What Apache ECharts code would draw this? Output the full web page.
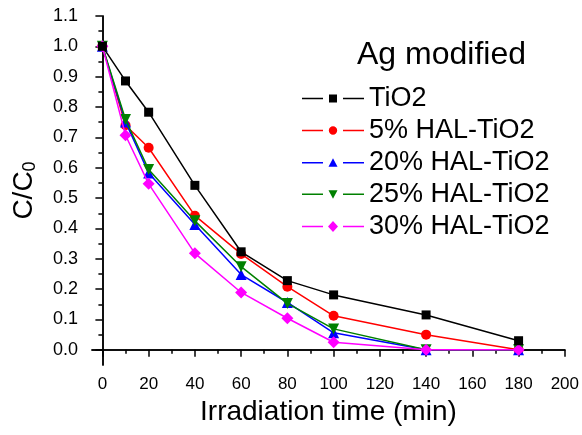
<!DOCTYPE html>
<html>
<head>
<meta charset="utf-8">
<script src="https://cdn.jsdelivr.net/npm/echarts@6/dist/echarts.min.js"></script>
</head>
<body style="margin:0">
<div id="main" style="width: 582px;height:435px;"></div>
<script>
    // data
    var times = [0, 10, 20, 40, 60, 80, 100, 140, 180];
    var tio2 = [1.0, 0.886, 0.783, 0.542, 0.323, 0.228, 0.181, 0.115, 0.03];
    var hal5 = [1.0, 0.74, 0.666, 0.442, 0.316, 0.208, 0.112, 0.05, 0.0];
    var hal20 = [1.0, 0.751, 0.583, 0.413, 0.248, 0.156, 0.056, 0.0, 0.0];
    var hal25 = [1.0, 0.759, 0.594, 0.425, 0.274, 0.153, 0.069, 0.0, 0.0];
    var hal30 = [1.0, 0.707, 0.547, 0.318, 0.189, 0.104, 0.025, 0.0, 0.0];
    var names = ['TiO2', '5% HAL-TiO2', '20% HAL-TiO2', '25% HAL-TiO2', '30% HAL-TiO2'];

    var xMajor = [0, 20, 40, 60, 80, 100, 120, 140, 160, 180, 200];
    var xMinor = [10, 30, 50, 70, 90, 110, 130, 150, 170, 190];
    var yMajor = [0, 0.1, 0.2, 0.3, 0.4, 0.5, 0.6, 0.7, 0.8, 0.9, 1.0, 1.1];
    var yMinor = [0.05, 0.15, 0.25, 0.35, 0.45, 0.55, 0.65, 0.75, 0.85, 0.95, 1.05];

    function pairs(ys) {
        return times.map(function (t, i) { return [t, ys[i]]; });
    }

    // legend icons: line - marker - line
    var lineL = 'M0,5.3 L21,5.3 L21,6.7 L0,6.7 Z ';
    var lineR = 'M41,5.3 L62,5.3 L62,6.7 L41,6.7 Z ';
    var icons = {
        square: 'path://' + lineL + 'M27,2 L35,2 L35,10 L27,10 Z ' + lineR,
        circle: 'path://' + lineL + 'M31,1.8 A4.2,4.2 0 1,1 30.99,1.8 Z ' + lineR,
        up: 'path://' + lineL + 'M31,1.5 L35.5,10 L26.5,10 Z ' + lineR,
        down: 'path://' + lineL + 'M26.5,2 L35.5,2 L31,10.5 Z ' + lineR,
        diamond: 'path://' + lineL + 'M31,0.5 L36,6 L31,11.5 L26,6 Z ' + lineR
    };

    var myChart = echarts.init(document.getElementById('main'));

    var font = 'Liberation Sans, Arial, sans-serif';

    function mk(name, data, color, symbol, size, rotate, z) {
        return {
            name: name,
            type: 'line',
            xAxisIndex: 0,
            yAxisIndex: 0,
            data: pairs(data),
            symbol: symbol,
            symbolSize: size,
            symbolRotate: rotate || 0,
            showAllSymbol: true,
            z: z,
            lineStyle: {color: color, width: 1.5},
            itemStyle: {color: color, borderWidth: 0},
            emphasis: {disabled: true},
            animation: false
        };
    }

    var option = {
        animation: false,
        textStyle: {fontFamily: font},
        title: {
            text: 'Ag modified',
            left: 357,
            top: 39,
            padding: 0,
            textStyle: {fontSize: 32, fontWeight: 'normal', color: '#000', fontFamily: font}
        },
        legend: {
            orient: 'vertical',
            left: 302,
            top: 85,
            padding: 0,
            itemWidth: 62,
            itemHeight: 12,
            itemGap: 5,
            textStyle: {fontSize: 27, color: '#000', fontFamily: font},
            data: [
                {name: names[0], icon: icons.square, itemStyle: {color: '#000000', borderWidth: 0}},
                {name: names[1], icon: icons.circle, itemStyle: {color: '#ff0000', borderWidth: 0}},
                {name: names[2], icon: icons.up, itemStyle: {color: '#0000ff', borderWidth: 0}},
                {name: names[3], icon: icons.down, itemStyle: {color: '#008000', borderWidth: 0}},
                {name: names[4], icon: icons.diamond, itemStyle: {color: '#ff00ff', borderWidth: 0}}
            ]
        },
        grid: {left: 92, right: 16, top: 16, bottom: 70},
        xAxis: [
            {
                type: 'value', position: 'bottom', min: -4.5, max: 200,
                name: 'Irradiation time (min)', nameLocation: 'middle', nameGap: 32,
                nameTextStyle: {fontSize: 28, color: '#000', fontFamily: font},
                axisLine: {show: true, lineStyle: {color: '#000', width: 1.5}},
                axisTick: {show: true, length: 7, customValues: xMajor, lineStyle: {color: '#000', width: 1.5}},
                axisLabel: {customValues: xMajor, fontSize: 17, color: '#000', margin: 11},
                splitLine: {show: false}
            },
            {
                type: 'value', position: 'bottom', min: -4.5, max: 200,
                axisLine: {show: false},
                axisTick: {show: true, length: 4, customValues: xMinor, lineStyle: {color: '#000', width: 1.5}},
                axisLabel: {show: false},
                splitLine: {show: false}
            },
            {
                type: 'value', position: 'top', min: -4.5, max: 200,
                axisLine: {show: true, lineStyle: {color: '#000', width: 1.5}},
                axisTick: {show: false},
                axisLabel: {show: false},
                splitLine: {show: false}
            }
        ],
        yAxis: [
            {
                type: 'value', position: 'left', min: -0.05, max: 1.1,
                name: '{a|C/C}{b|0}', nameLocation: 'middle', nameGap: 53, nameRotate: 90,
                nameTextStyle: {
                    color: '#000', fontFamily: font,
                    rich: {
                        a: {fontSize: 28, color: '#000', fontFamily: font},
                        b: {fontSize: 18, color: '#000', fontFamily: font, padding: [11, 0, 0, 0]}
                    }
                },
                axisLine: {show: true, lineStyle: {color: '#000', width: 1.5}},
                axisTick: {show: true, length: 7, customValues: yMajor, lineStyle: {color: '#000', width: 1.5}},
                axisLabel: {
                    customValues: yMajor, fontSize: 18, color: '#000', margin: 14,
                    formatter: function (v) { return v.toFixed(1); }
                },
                splitLine: {show: false}
            },
            {
                type: 'value', position: 'left', min: -0.05, max: 1.1,
                axisLine: {show: false},
                axisTick: {show: true, length: 4, customValues: yMinor, lineStyle: {color: '#000', width: 1.5}},
                axisLabel: {show: false},
                splitLine: {show: false}
            },
            {
                type: 'value', position: 'right', min: -0.05, max: 1.1,
                axisLine: {show: true, lineStyle: {color: '#000', width: 1.5}},
                axisTick: {show: false},
                axisLabel: {show: false},
                splitLine: {show: false}
            }
        ],
        series: [
            mk(names[1], hal5, '#ff0000', 'circle', 10, 0, 2),
            mk(names[2], hal20, '#0000ff', 'triangle', 11, 0, 3),
            mk(names[3], hal25, '#008000', 'triangle', 11, 180, 4),
            mk(names[4], hal30, '#ff00ff', 'diamond', 12, 0, 5),
            mk(names[0], tio2, '#000000', 'rect', 9, 0, 6)
        ]
    };
    myChart.setOption(option);
</script>
</body>
</html>
